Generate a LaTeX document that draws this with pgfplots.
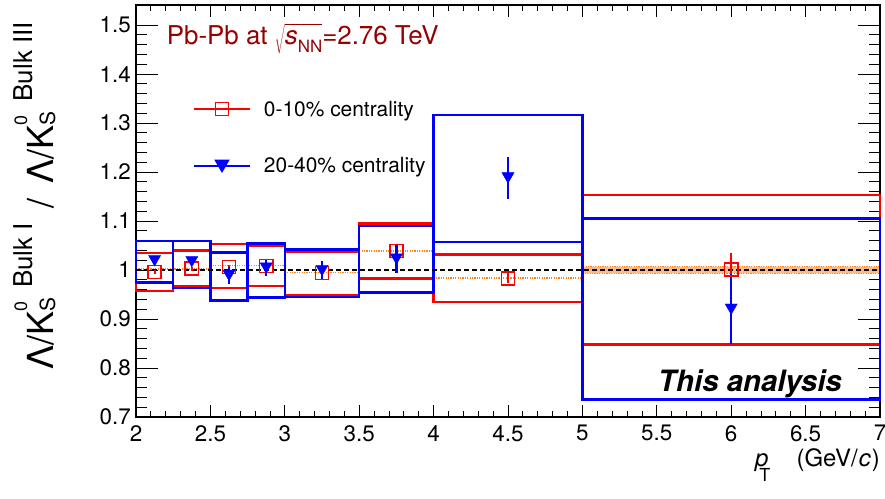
\documentclass[border=0pt]{standalone}
\usepackage{pgfplots}
\pgfplotsset{compat=1.18}
\usepackage{pgfplotstable}
\usepackage{fontspec}
\setmainfont{TeX Gyre Heros}
\definecolor{rred}{RGB}{255,0,0}
\definecolor{rblue}{RGB}{0,0,255}
\definecolor{titlered}{RGB}{150,0,0}
\definecolor{rorange}{RGB}{255,130,30}

% systematic boxes, 0-10% (corners, boxes separated by nan)
\pgfplotstableread{
x y
2.00 0.957
2.25 0.957
2.25 1.035
2.00 1.035
2.00 0.957
nan nan
2.25 0.966
2.50 0.966
2.50 1.040
2.25 1.040
2.25 0.966
nan nan
2.50 0.963
2.75 0.963
2.75 1.053
2.50 1.053
2.50 0.963
nan nan
2.75 0.967
3.00 0.967
3.00 1.049
2.75 1.049
2.75 0.967
nan nan
3.00 0.949
3.50 0.949
3.50 1.037
3.00 1.037
3.00 0.949
nan nan
3.50 0.983
4.00 0.983
4.00 1.095
3.50 1.095
3.50 0.983
nan nan
4.00 0.935
5.00 0.935
5.00 1.032
4.00 1.032
4.00 0.935
nan nan
5.00 0.8485
7.00 0.8485
7.00 1.153
5.00 1.153
5.00 0.8485
}\redboxes

% systematic boxes, 20-40%
\pgfplotstableread{
x y
2.00 0.9745
2.25 0.9745
2.25 1.059
2.00 1.059
2.00 0.9745
nan nan
2.25 0.963
2.50 0.963
2.50 1.059
2.25 1.059
2.25 0.963
nan nan
2.50 0.938
2.75 0.938
2.75 1.036
2.50 1.036
2.50 0.938
nan nan
2.75 0.944
3.00 0.944
3.00 1.054
2.75 1.054
2.75 0.944
nan nan
3.00 0.945
3.50 0.945
3.50 1.042
3.00 1.042
3.00 0.945
nan nan
3.50 0.954
4.00 0.954
4.00 1.0895
3.50 1.0895
3.50 0.954
nan nan
4.00 1.057
5.00 1.057
5.00 1.316
4.00 1.316
4.00 1.057
nan nan
5.00 0.7355
7.00 0.7355
7.00 1.105
5.00 1.105
5.00 0.7355
}\blueboxes

% points with statistical errors
\pgfplotstableread{
x y e
2.125 0.996 0.004
2.375 1.003 0.004
2.625 1.006 0.005
2.875 1.008 0.005
3.25 0.994 0.006
3.75 1.039 0.008
4.5 0.983 0.010
6.0 1.001 0.033
}\redpts

\pgfplotstableread{
x y e
2.125 1.019 0.006
2.375 1.017 0.006
2.625 0.989 0.017
2.875 1.004 0.017
3.25 0.999 0.020
3.75 1.0225 0.029
4.5 1.188 0.043
6.0 0.920 0.0715
}\bluepts

% coarse-binned reference (orange dotted)
\pgfplotstableread{
x y
2.0 1.002
2.5 1.002
nan nan
2.5 1.009
3.0 1.009
nan nan
3.0 0.995
3.5 0.995
nan nan
3.5 1.039
4.0 1.039
nan nan
4.0 0.984
5.0 0.984
}\orangelines

\pgfplotstableread{
x y
5.0 0.993
7.0 0.993
7.0 1.007
5.0 1.007
5.0 0.993
}\orangeband

\begin{document}
\begin{tikzpicture}
\useasboundingbox (0,0) rectangle (885bp,499bp);
\begin{axis}[
  at={(136bp,82bp)}, anchor=south west,
  width=744bp, height=412bp, scale only axis,
  xmin=2, xmax=7, ymin=0.7, ymax=1.541,
  xtick={2,2.5,3,3.5,4,4.5,5,5.5,6,6.5,7},
  ytick={0.7,0.8,0.9,1,1.1,1.2,1.3,1.4,1.5},
  minor x tick num=4, minor y tick num=4,
  tick align=inside,
  major tick length=22bp, minor tick length=11bp,
  every major x tick/.append style={/pgfplots/major tick length=12bp},
  every minor x tick/.append style={/pgfplots/minor tick length=6bp},
  tick style={black, line width=0.8bp},
  axis line style={line width=1.2bp},
  /pgf/number format/assume math mode=true,
  ticklabel style={font=\fontsize{22.5}{26}\selectfont},
  xticklabel style={inner sep=0pt, anchor=north, yshift=-8bp},
  yticklabel style={inner sep=0pt, anchor=east, xshift=-5bp},
  clip=false,
  unbounded coords=jump,
  legend style={draw=none, fill=none, inner sep=0pt, outer sep=0pt,
    at={(axis cs:2.383,1.349)}, anchor=north west,
    row sep=36.7bp, column sep=13bp,
    font=\fontsize{21}{25}\selectfont,
    nodes={inner sep=0pt, text height=17bp, text depth=3bp}},
  legend cell align=left,
  legend image code/.code={\draw[mark repeat=2,mark phase=2,#1] plot coordinates {(0bp,0bp)(28bp,0bp)(56bp,0bp)};},
]
\addlegendimage{rred, line width=2bp, mark=square, mark size=6.6bp, mark options={solid, line width=1.5bp}}
\addlegendentry{0-10\% centrality}
\addlegendimage{rblue, line width=2bp, mark=triangle*, mark size=7bp, mark options={solid, yshift=1.75bp, rotate=180}}
\addlegendentry{20-40\% centrality}

\addplot[forget plot, draw=rorange, fill=rorange!55, line width=0.8bp, dash pattern=on 1.2bp off 1.2bp] table[x=x,y=y] \orangeband;
\addplot[forget plot, rorange, line width=1.5bp, dash pattern=on 1.2bp off 1.2bp] table[x=x,y=y] \orangelines;

\addplot[forget plot, rred, line width=2.5bp, line cap=rect, mark=none] table[x=x,y=y] \redboxes;
\addplot[forget plot, rblue, line width=2.5bp, line cap=rect, mark=none] table[x=x,y=y] \blueboxes;

\addplot[forget plot, black, line width=1.2bp, dash pattern=on 4.5bp off 3.5bp] coordinates {(2,1) (7,1)};

\addplot[forget plot, rred, only marks, mark=square, mark size=6.6bp, mark options={solid, line width=1.5bp},
  error bars/.cd, y dir=both, y explicit, error mark=none,
  error bar style={line width=2bp, solid}]
  table[x=x, y=y, y error=e] \redpts;
\addplot[forget plot, rblue, only marks, mark=triangle*, mark size=7bp, mark options={solid, yshift=1.75bp, rotate=180},
  error bars/.cd, y dir=both, y explicit, error mark=none,
  error bar style={line width=2.4bp, solid}]
  table[x=x, y=y, y error=e] \bluepts;
\end{axis}

% title
\node[anchor=base west, inner sep=0pt, text=titlered] at (166.7bp,454bp)
  {\fontsize{26}{30}\selectfont Pb-Pb at $\sqrt{\mbox{\vphantom{T}\textit{s}\raisebox{-8bp}{\fontsize{17}{17}\selectfont NN}}}$=2.76 TeV};
% analysis tag
\node[anchor=base west, inner sep=0pt] at (658bp,107bp) {\fontsize{29.5}{33}\selectfont\bfseries\itshape This analysis};
% x label
\node[anchor=base east, inner sep=0pt] (unit) at (880bp,32.3bp)
  {\fontsize{24}{28}\selectfont (GeV/\kern1bp\textit{c}\kern1bp)};
\node[anchor=base east, inner sep=0pt] at ([xshift=-26bp]unit.base west)
  {\fontsize{24}{28}\selectfont\textit{p}\kern-9bp\raisebox{-15bp}{\fontsize{18}{18}\selectfont T}};
% y label
\node[rotate=90, anchor=base east, inner sep=0pt] at (53bp,477bp)
  {\fontsize{36}{40}\selectfont Λ/K\rlap{\raisebox{26bp}{\fontsize{18}{18}\selectfont 0}}\raisebox{-2bp}{\fontsize{21}{21}\selectfont S}\kern10bp\raisebox{21bp}{\fontsize{26}{26}\selectfont Bulk I}\kern15bp/\kern15bp Λ/K\rlap{\raisebox{26bp}{\fontsize{18}{18}\selectfont 0}}\raisebox{-2bp}{\fontsize{21}{21}\selectfont S}\kern10bp\raisebox{21bp}{\fontsize{26}{26}\selectfont Bulk III}};
\end{tikzpicture}
\end{document}
